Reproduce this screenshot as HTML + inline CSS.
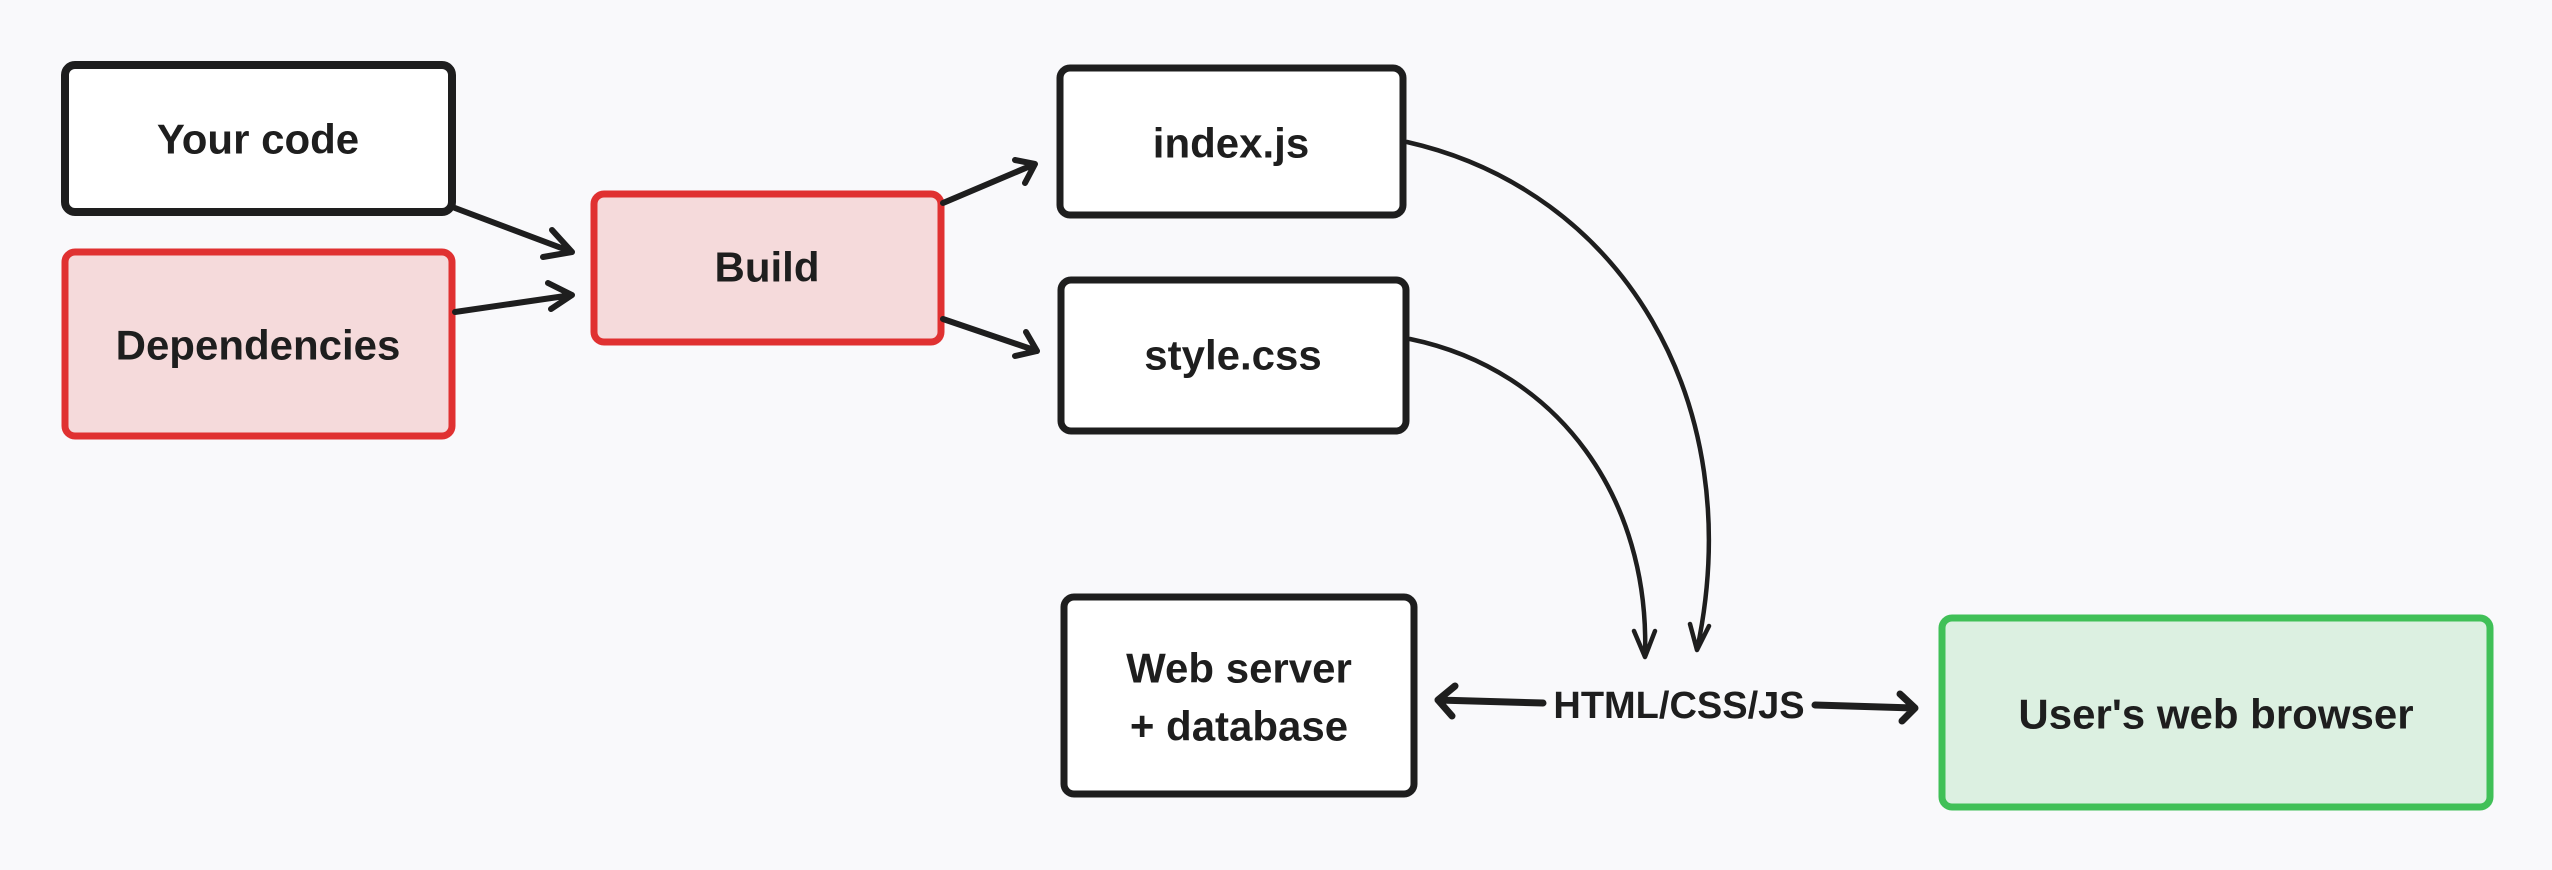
<!DOCTYPE html>
<html><head><style>
html,body{margin:0;padding:0;background:#f9f9fb;}
svg{display:block}
text{font-family:"Liberation Sans",sans-serif;font-weight:bold;fill:#1e1e1e;text-anchor:middle;dominant-baseline:central}
</style></head><body>
<svg width="2552" height="870" viewBox="0 0 2552 870" xmlns="http://www.w3.org/2000/svg">
<rect width="2552" height="870" fill="#f9f9fb"/>
<g stroke-linejoin="round" stroke-linecap="round">
<rect x="65" y="65" width="387" height="147" rx="10" fill="#fff" stroke="#1e1e1e" stroke-width="8"/>
<rect x="65" y="252" width="387" height="184" rx="10" fill="#f5dadb" stroke="#e03131" stroke-width="7"/>
<rect x="594" y="194" width="347" height="148" rx="10" fill="#f5dadb" stroke="#e03131" stroke-width="7"/>
<rect x="1060" y="68" width="343" height="147" rx="10" fill="#fff" stroke="#1e1e1e" stroke-width="7"/>
<rect x="1061" y="280" width="345" height="151" rx="10" fill="#fff" stroke="#1e1e1e" stroke-width="7"/>
<rect x="1064" y="597" width="350" height="197" rx="10" fill="#fff" stroke="#1e1e1e" stroke-width="7"/>
<rect x="1942" y="618" width="548" height="189" rx="10" fill="#dcf0e1" stroke="#40c057" stroke-width="7"/>
</g>
<g fill="none" stroke="#1e1e1e" stroke-width="6" stroke-linecap="round" stroke-linejoin="round">
<path d="M455 208 L572 252 M552 230 L572 252 L543 257"/>
<path d="M455 312 L572 295 M548 283 L572 295 L551 309"/>
<path d="M943 203 L1035 164 M1015 160 L1035 164 L1025 183"/>
<path d="M943 319 L1037 351 M1026 332 L1037 351 L1015 356"/>
<path d="M1407 142 C1620 190 1750 400 1697 650 M1690 624 L1697 650 L1709 626" stroke-width="4.5"/>
<path d="M1410 339 C1560 370 1650 500 1645 655 M1634 631 L1645 657 L1655 631" stroke-width="4.5"/>
<path d="M1543 703 L1438 700 M1455 686 L1438 700 L1452 716" stroke-width="7"/>
<path d="M1815 705 L1915 708 M1900 694 L1915 708 L1902 721" stroke-width="7"/>
</g>
<text x="258" y="139" font-size="42">Your code</text>
<text x="258" y="345" font-size="42">Dependencies</text>
<text x="767" y="267" font-size="42">Build</text>
<text x="1231" y="143" font-size="42">index.js</text>
<text x="1233" y="355" font-size="42">style.css</text>
<text x="1239" y="668" font-size="42">Web server</text>
<text x="1239" y="726" font-size="42">+ database</text>
<text x="2216" y="714" font-size="42">User's web browser</text>
<text x="1679" y="706" font-size="38">HTML/CSS/JS</text>
</svg>
</body></html>
